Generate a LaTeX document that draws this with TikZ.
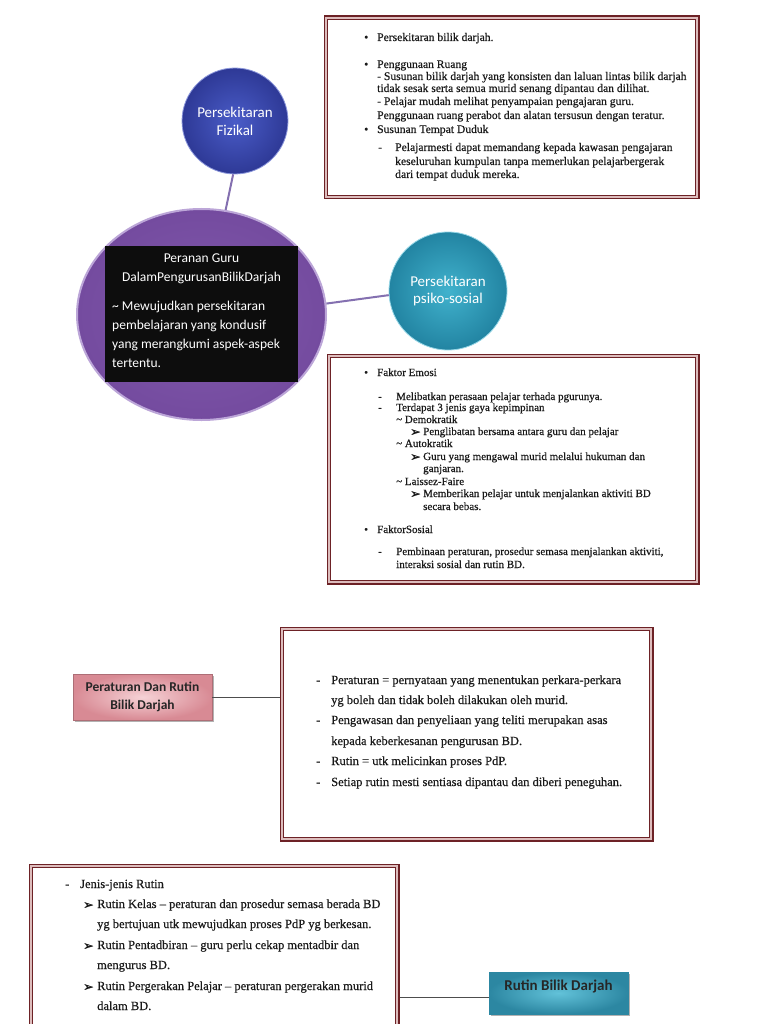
\documentclass[tikz,border=0pt]{standalone}
\usepackage{fontspec}
\setmainfont[FakeBold=0.5]{Liberation Serif}
\setsansfont{Carlito}
\newfontfamily\symfont[FakeBold=1]{DejaVu Sans}
\usetikzlibrary{shapes.geometric,shadows,calc}
\definecolor{framec}{HTML}{6D2226}
\definecolor{framelite}{HTML}{DDBDBD}
\definecolor{txt}{HTML}{1A1A1A}
\definecolor{fizL}{HTML}{4A5CC8}
\definecolor{fizD}{HTML}{2E3996}
\definecolor{fizR}{HTML}{8D98DC}
\definecolor{purL}{HTML}{8159AC}
\definecolor{purD}{HTML}{744B9F}
\definecolor{purR}{HTML}{BCA6D8}
\definecolor{psiL}{HTML}{41B2CD}
\definecolor{psiD}{HTML}{2284A2}
\definecolor{psiR}{HTML}{95D6E6}
\definecolor{pinkL}{HTML}{F6D2D6}
\definecolor{pinkD}{HTML}{D88A94}
\definecolor{tealL}{HTML}{62C2D9}
\definecolor{tealD}{HTML}{2C87A2}
\definecolor{pcon}{HTML}{8470B0}
\definecolor{lcon}{HTML}{4D4D4D}
\newcommand\arrowglyph{{\symfont\fontsize{12.5}{13}\selectfont ➢}}
\begin{document}
\begin{tikzpicture}[x=1pt,y=-1pt,
  frameout/.style={rectangle, draw=framec, line width=3pt, fill=white, inner sep=0pt},
  fa/.style={draw=framelite, line width=1.3pt},
  fb/.style={draw=framec, line width=0.8pt},
  ta/.style={anchor=base west, inner sep=0pt, text=txt, font=\fontsize{11.6}{13}\selectfont},
  tb/.style={ta, font=\fontsize{11}{13}\selectfont},
  tc/.style={ta, font=\fontsize{12.5}{15}\selectfont},
  wt/.style={inner sep=0pt, text=white, font=\sffamily\fontsize{13.5}{16}\selectfont},
  pconn/.style={draw=pcon, line width=2pt},
  lconn/.style={draw=lcon, line width=0.9pt},
  shad/.style={drop shadow={shadow xshift=1.5pt, shadow yshift=-1.5pt, fill=black, opacity=0.3}}
]
\useasboundingbox (0,0) rectangle (768,1024);
\clip (0,0) rectangle (768,1024);
\fill[white] (0,0) rectangle (768,1024);

% ---------- frames ----------
\node[frameout, minimum width=373pt, minimum height=181pt] (f1) at (511.5,107.5) {};
\node[frameout, minimum width=370pt, minimum height=228pt] (f2) at (513,469) {};
\node[frameout, minimum width=371pt, minimum height=212pt] (f3) at (466.5,734) {};
\node[frameout, minimum width=368pt, minimum height=200pt] (f4) at (214,965) {};
\foreach \f in {f1,f2,f3,f4}{
  \draw[fa] ($(\f.north west)+(2.4,2.4)$) rectangle ($(\f.south east)+(-2.4,-2.4)$);
  \draw[fb] ($(\f.north west)+(3.7,3.7)$) rectangle ($(\f.south east)+(-3.7,-3.7)$);
}

% ---------- texts of box 1 ----------
\foreach \xx/\yy/\lbl [count=\i] in {
  364/41/\textbullet, 377/41/{Persekitaran bilik darjah.},
  364/68/\textbullet, 377/68/{Penggunaan Ruang},
  377/80/{- Susunan bilik darjah yang konsisten dan laluan lintas bilik darjah},
  377/92/{tidak sesak serta semua murid senang dipantau dan dilihat.},
  377/105/{- Pelajar mudah melihat penyampaian pengajaran guru.},
  377/119/{Penggunaan ruang perabot dan alatan tersusun dengan teratur.},
  364/133/\textbullet, 377/133/{Susunan Tempat Duduk},
  378/151/{-}, 395/151/{Pelajarmesti dapat memandang kepada kawasan pengajaran},
  395/165/{keseluruhan kumpulan tanpa memerlukan pelajarbergerak},
  395/178/{dari tempat duduk mereka.}}
  {\node[ta] (ta\i) at (\xx,\yy) {\lbl};}

% ---------- texts of box 2 ----------
\foreach \xx/\yy/\lbl [count=\i] in {
  364/376/\textbullet, 377/376/{Faktor Emosi},
  378/400/{-}, 396/400/{Melibatkan perasaan pelajar terhada pgurunya.},
  378/411/{-}, 396/411/{Terdapat 3 jenis gaya kepimpinan},
  396/423/{\textasciitilde\ Demokratik},
  410/436/\arrowglyph, 423/435/{Penglibatan bersama antara guru dan pelajar},
  396/447/{\textasciitilde\ Autokratik},
  410/461/\arrowglyph, 423/460/{Guru yang mengawal murid melalui hukuman dan},
  423/472/{ganjaran.},
  396/485/{\textasciitilde\ Laissez-Faire},
  410/498/\arrowglyph, 423/497/{Memberikan pelajar untuk menjalankan aktiviti BD},
  423/510/{secara bebas.},
  364/533/\textbullet, 377/533/{FaktorSosial},
  378/555/{-}, 396/555/{Pembinaan peraturan, prosedur semasa menjalankan aktiviti,},
  396/568/{interaksi sosial dan rutin BD.}}
  {\node[tb] (tb\i) at (\xx,\yy) {\lbl};}

% ---------- texts of box 3 ----------
\foreach \xx/\yy/\lbl [count=\i] in {
  316/684/{-}, 331/684/{Peraturan = pernyataan yang menentukan perkara-perkara},
  331/704/{yg boleh dan tidak boleh dilakukan oleh murid.},
  316/724/{-}, 331/724/{Pengawasan dan penyeliaan yang teliti merupakan asas},
  331/745/{kepada keberkesanan pengurusan BD.},
  316/765/{-}, 331/765/{Rutin = utk melicinkan proses PdP.},
  316/786/{-}, 331/786/{Setiap rutin mesti sentiasa dipantau dan diberi peneguhan.}}
  {\node[tc] (tc\i) at (\xx,\yy) {\lbl};}

% ---------- texts of box 4 ----------
\foreach \xx/\yy/\lbl [count=\i] in {
  65/888/{-}, 80/888/{Jenis-jenis Rutin},
  83/909/\arrowglyph, 97/908/{Rutin Kelas -- peraturan dan prosedur semasa berada BD},
  97/928/{yg bertujuan utk mewujudkan proses PdP yg berkesan.},
  83/950/\arrowglyph, 97/949/{Rutin Pentadbiran -- guru perlu cekap mentadbir dan},
  97/969/{mengurus BD.},
  83/991/\arrowglyph, 97/990/{Rutin Pergerakan Pelajar -- peraturan pergerakan murid},
  97/1010/{dalam BD.}}
  {\node[tc] (td\i) at (\xx,\yy) {\lbl};}

% ---------- mind map ----------
\node[ellipse, minimum width=249pt, minimum height=211pt, inner sep=0pt,
      inner color=purL, outer color=purD, draw=purR, line width=2pt] (big) at (201.5,314.5) {};
\node[rectangle, fill=black!95, minimum width=193pt, minimum height=136pt, inner sep=0pt] (blk) at (201.5,314) {};
\node[wt, anchor=base] (h1) at (201.5,262) {Peranan Guru};
\node[wt, anchor=base] (h2) at (201.5,281) {DalamPengurusanBilikDarjah};
\node[wt, anchor=base west] (b1) at (112,310) {\textasciitilde\ Mewujudkan persekitaran};
\node[wt, anchor=base west] (b2) at (112,329) {pembelajaran yang kondusif};
\node[wt, anchor=base west] (b3) at (112,348) {yang merangkumi aspek-aspek};
\node[wt, anchor=base west] (b4) at (112,367) {tertentu.};

\node[circle, minimum size=106pt, inner sep=0pt, inner color=fizL, outer color=fizD,
      draw=fizR, line width=0.8pt, align=center, text=white,
      font=\sffamily\fontsize{15}{18}\selectfont] (fiz) at (235,121) {Persekitaran\\Fizikal};
\node[circle, minimum size=118pt, inner sep=0pt, inner color=psiL, outer color=psiD,
      draw=psiR, line width=0.8pt, align=center, text=white,
      font=\sffamily\fontsize{15}{17}\selectfont] (psi) at (448,291) {Persekitaran\\psiko-sosial};

\draw[pconn] (fiz.-92) -- (big.77);
\draw[pconn] (big.5) -- (psi.184);

% ---------- lower boxes ----------
\node[rectangle, minimum width=139pt, minimum height=46pt, inner sep=0pt, shad,
      inner color=pinkL, outer color=pinkD, draw=pinkD!80!black, line width=0.4pt,
      align=center, text=black!85, font=\sffamily\bfseries\fontsize{13.5}{18}\selectfont]
      (pk) at (142.5,697) {Peraturan Dan Rutin\\Bilik Darjah};
\draw[lconn] (pk.east) -- (pk.east -| f3.west);

\node[rectangle, minimum width=139pt, minimum height=42pt, inner sep=0pt, shad,
      inner color=tealL, outer color=tealD, draw=tealD, line width=0.4pt] (tbx) at (558.5,993) {};
\node[inner sep=0pt, text=black!85, font=\sffamily\bfseries\fontsize{15}{18}\selectfont] (tbt) at (558.5,986) {Rutin Bilik Darjah};
\coordinate (c4) at ($(tbx.west)+(0,4)$);
\draw[lconn] (c4 -| f4.east) -- (c4);
\end{tikzpicture}
\end{document}
